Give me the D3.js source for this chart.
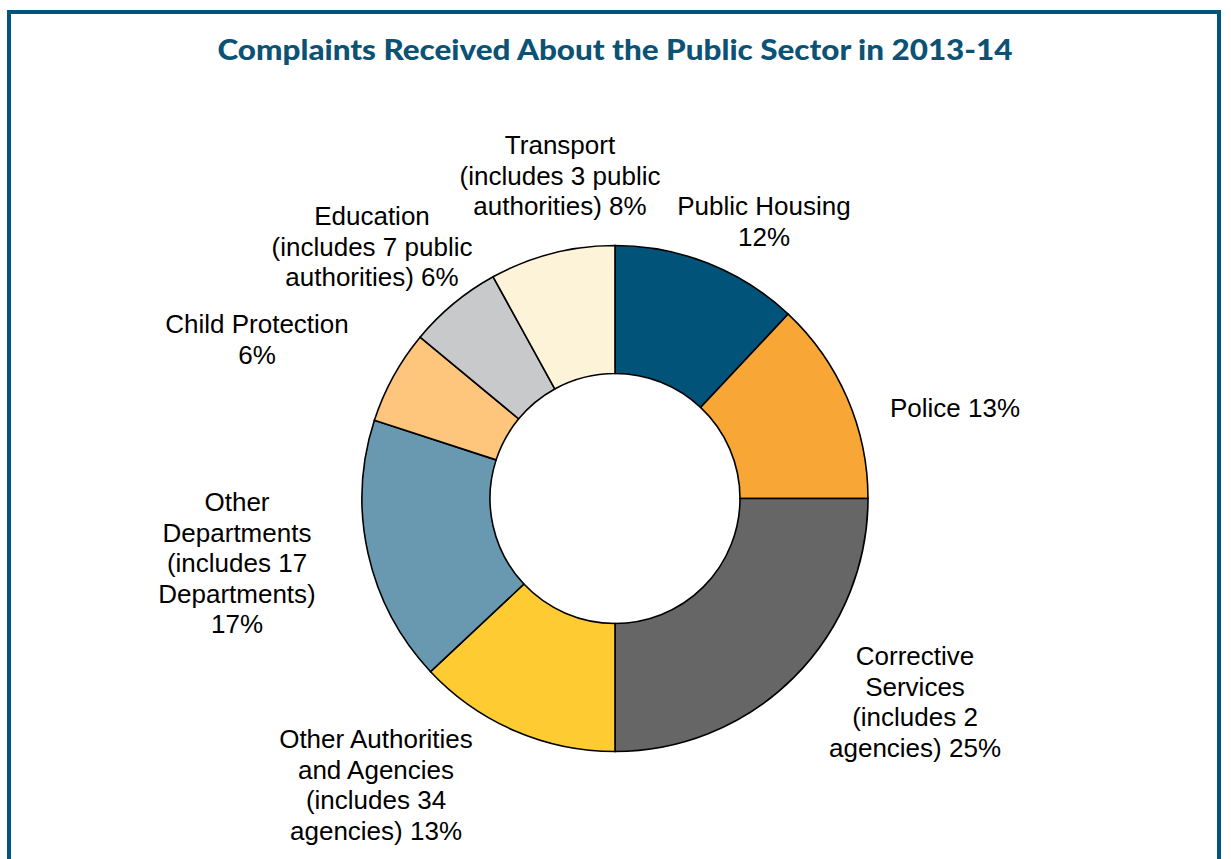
<!DOCTYPE html>
<html>
<head>
<meta charset="utf-8">
<script src="https://cdn.jsdelivr.net/npm/d3@7/dist/d3.min.js"></script>
<style>
  html, body { margin: 0; padding: 0; background: #ffffff; }
  svg { display: block; }
</style>
</head>
<body>
<svg id="chart" width="1231" height="859"></svg>
<script>
// Complaint share by sector, clockwise from 12 o'clock
const categories = [
  "Public Housing", "Police", "Corrective Services", "Other Authorities and Agencies",
  "Other Departments", "Child Protection", "Education", "Transport"
];
const shares = [12, 13, 25, 13, 17, 6, 6, 8];

// Label text, one entry per line; {v} is replaced by the share
const labelLines = [
  ["Public Housing", "{v}"],
  ["Police {v}"],
  ["Corrective", "Services", "(includes 2", "agencies) {v}"],
  ["Other Authorities", "and Agencies", "(includes 34", "agencies) {v}"],
  ["Other", "Departments", "(includes 17", "Departments)", "{v}"],
  ["Child Protection", "{v}"],
  ["Education", "(includes 7 public", "authorities) {v}"],
  ["Transport", "(includes 3 public", "authorities) {v}"]
];

const sliceColors = ["#01537a", "#f8a636", "#666666", "#ffcb33", "#6899b0", "#fec57d", "#c8c9cb", "#fcf3d9"];

// Label block centres (x, y of first line's middle)
const labelPos = [
  [764, 206], [955, 408], [915, 656], [376, 739],
  [237, 502], [257, 324], [372, 216], [560, 145]
];

const W = 1231, H = 859;
const cx = 615, cy = 498.5, outerR = 253, innerR = 125;
const lineH = 30.5, fontSize = 26;

const svg = d3.select("#chart");

// Frame (open at the bottom)
svg.append("path")
  .attr("d", `M9,${H} L9,12 L1219,12 L1219,${H}`)
  .attr("fill", "none")
  .attr("stroke", "#00557a")
  .attr("stroke-width", 4);

// Title
svg.append("text")
  .attr("x", 615)
  .attr("y", 60)
  .attr("text-anchor", "middle")
  .attr("font-family", "'Century Gothic', 'URW Gothic', 'Lato', 'Liberation Sans', sans-serif")
  .attr("font-weight", 900)
  .attr("font-size", 28)
  .attr("fill", "#0b5274")
  .attr("textLength", 795)
  .attr("lengthAdjust", "spacingAndGlyphs")
  .text("Complaints Received About the Public Sector in 2013-14");

const data = categories.map((c, i) => ({ name: c, value: shares[i], i }));

const pie = d3.pie()
  .sort(null)
  .value(d => d.value)
  .startAngle(0)
  .endAngle(2 * Math.PI);

const arc = d3.arc().innerRadius(innerR).outerRadius(outerR);

const g = svg.append("g").attr("transform", `translate(${cx},${cy})`);

g.selectAll("path.slice")
  .data(pie(data))
  .join("path")
  .attr("class", "slice")
  .attr("d", arc)
  .attr("fill", d => sliceColors[d.data.i])
  .attr("stroke", "#000")
  .attr("stroke-width", 1.6)
  .attr("stroke-linejoin", "miter");

// Data labels
const labels = svg.append("g")
  .attr("font-family", "'Liberation Sans', Arial, sans-serif")
  .attr("font-size", fontSize)
  .attr("fill", "#000")
  .attr("text-anchor", "middle");

data.forEach((d, i) => {
  const [lx, ly] = labelPos[i];
  const t = labels.append("text");
  labelLines[i].forEach((ln, k) => {
    t.append("tspan")
      .attr("x", lx)
      .attr("y", ly + k * lineH + fontSize * 0.36)
      .text(ln.replace("{v}", d.value + "%"));
  });
});
</script>
</body>
</html>
